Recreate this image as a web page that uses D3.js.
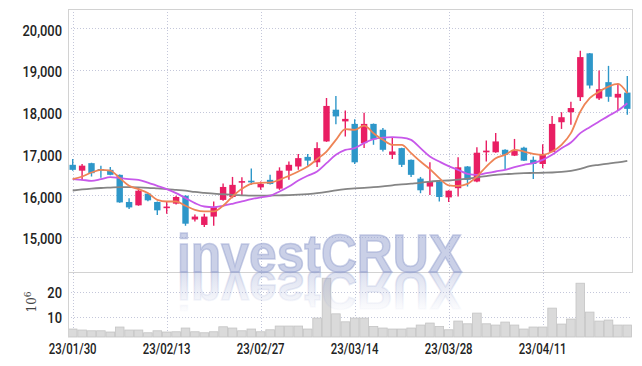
<!DOCTYPE html>
<html>
<head>
<meta charset="utf-8">
<script src="https://cdn.jsdelivr.net/npm/d3@7"></script>
<style>
body { margin: 0; background: #fff; }
</style>
</head>
<body>
<div id="chart"></div>
<script>
// Trading days (60 sessions)
const dates = [
    "23/01/30", "23/01/31", "23/02/01", "23/02/02", "23/02/03",
    "23/02/06", "23/02/07", "23/02/08", "23/02/09", "23/02/10",
    "23/02/13", "23/02/14", "23/02/15", "23/02/16", "23/02/17",
    "23/02/20", "23/02/21", "23/02/22", "23/02/23", "23/02/24",
    "23/02/27", "23/02/28", "23/03/02", "23/03/03",
    "23/03/06", "23/03/07", "23/03/08", "23/03/09", "23/03/10",
    "23/03/13", "23/03/14", "23/03/15", "23/03/16", "23/03/17",
    "23/03/20", "23/03/21", "23/03/22", "23/03/23", "23/03/24",
    "23/03/27", "23/03/28", "23/03/29", "23/03/30", "23/03/31",
    "23/04/03", "23/04/04", "23/04/05", "23/04/06", "23/04/07",
    "23/04/10", "23/04/11", "23/04/12", "23/04/13", "23/04/14",
    "23/04/17", "23/04/18", "23/04/19", "23/04/20", "23/04/21",
    "23/04/24"
];

const open = [16730, 16590, 16770, 16630, 16610, 16490, 15840, 15760, 16040, 15840,
    15700, 15800, 15990, 15420, 15290, 15490, 15890, 15960, 16310, 16350,
    16190, 16370, 16160, 16590, 16690, 16920, 16790, 17290, 18050, 17770,
    17710, 17250, 17710, 17570, 16970, 17130, 16850, 16400, 16210, 16330,
    15950, 16170, 16690, 16330, 17030, 17030, 17090, 16950, 17140, 16850,
    16750, 17040, 17750, 17990, 18350, 19400, 18320, 18710, 18340, 18460];
const high = [16870, 16750, 16780, 16710, 16680, 16500, 15930, 16170, 16050, 15850,
    15850, 15990, 16000, 15540, 15560, 15850, 16280, 16440, 16430, 16640,
    16330, 16490, 16670, 16810, 16990, 16990, 17270, 18330, 18380, 18030,
    17820, 17980, 17720, 17610, 17380, 17140, 16860, 16440, 16790, 16340,
    16120, 16910, 16700, 17150, 17310, 17490, 17100, 17350, 17160, 16930,
    17220, 17900, 17990, 18240, 19460, 19410, 18990, 19100, 18680, 18860];
const low = [16590, 16360, 16450, 16420, 16480, 15820, 15670, 15750, 15860, 15530,
    15560, 15780, 15270, 15370, 15240, 15270, 15870, 15930, 16010, 16250,
    16130, 16260, 16130, 16370, 16610, 16710, 16680, 17280, 17700, 17410,
    16750, 17130, 17210, 17050, 16870, 16680, 16440, 16050, 16010, 15850,
    15840, 15970, 16210, 16310, 16810, 17020, 16630, 16940, 16820, 16390,
    16650, 17030, 17590, 17690, 18260, 18560, 18280, 18240, 18020, 17930];
const close = [16610, 16710, 16530, 16600, 16490, 15830, 15710, 16110, 15880, 15640,
    15730, 15960, 15320, 15490, 15490, 15720, 16200, 16250, 16340, 16310,
    16270, 16270, 16590, 16730, 16890, 16830, 17130, 18140, 17890, 17830,
    16790, 17710, 17340, 17090, 17050, 16730, 16490, 16120, 16320, 15960,
    16110, 16670, 16370, 17020, 17070, 17290, 16970, 17060, 16830, 16750,
    16990, 17710, 17870, 18090, 19310, 18630, 18540, 18360, 18430, 18070];

// volume, millions of shares
const volume = [5.0, 4.6, 4.3, 4.3, 3.8, 5.8, 4.6, 4.6, 3.5, 4.3,
    3.8, 3.9, 5.4, 3.9, 3.5, 3.9, 5.9, 5.4, 4.3, 5.0,
    3.9, 4.7, 6.2, 6.2, 6.2, 5.0, 9.4, 25.4, 11.1, 7.9,
    9.4, 9.4, 6.0, 5.4, 5.0, 5.0, 5.4, 6.6, 7.4, 6.0,
    4.7, 8.2, 7.1, 11.4, 7.1, 6.6, 7.8, 6.6, 5.0, 5.8,
    5.8, 13.4, 7.0, 9.0, 23.4, 11.8, 8.2, 8.6, 6.6, 6.6];

// moving averages
const ma5 = [16388, 16450, 16546, 16610, 16593, 16411, 16227, 16148, 16053, 15892,
    15852, 15852, 15749, 15653, 15613, 15613, 15749, 15971, 16155, 16275,
    16300, 16306, 16371, 16467, 16570, 16689, 16866, 17048, 17328, 17584,
    17567, 17670, 17488, 17328, 17208, 17208, 17010, 16809, 16627, 16411,
    16240, 16227, 16275, 16450, 16689, 16890, 16969, 17088, 17048, 16993,
    16969, 17048, 17208, 17488, 18005, 18325, 18483, 18603, 18667, 18445];
const ma10 = [16388, 16371, 16347, 16388, 16435, 16411, 16388, 16371, 16306, 16227,
    16148, 16053, 15933, 15813, 15732, 15718, 15749, 15797, 15852, 15909,
    15952, 15988, 16091, 16211, 16354, 16467, 16570, 16770, 16969, 17088,
    17129, 17249, 17344, 17383, 17392, 17383, 17328, 17129, 16929, 16809,
    16698, 16610, 16514, 16490, 16530, 16570, 16610, 16675, 16730, 16770,
    16849, 16969, 17129, 17265, 17488, 17632, 17766, 17902, 18029, 18206];
const ma60 = [16115, 16140, 16160, 16175, 16185, 16195, 16195, 16190, 16180, 16165,
    16150, 16130, 16110, 16080, 16060, 16040, 16025, 16010, 16000, 15990,
    15990, 15995, 16000, 16005, 16015, 16030, 16050, 16080, 16120, 16150,
    16165, 16180, 16195, 16215, 16240, 16260, 16280, 16300, 16330, 16345,
    16355, 16375, 16400, 16430, 16460, 16490, 16505, 16520, 16530, 16535,
    16540, 16546, 16560, 16586, 16630, 16700, 16730, 16760, 16790, 16826];

const priceTicks = [15000, 16000, 17000, 18000, 19000, 20000];
const volTicks = [10, 20];
const dateTicks = ["23/01/30", "23/02/13", "23/02/27", "23/03/14", "23/03/28", "23/04/11"];

const width = 642, height = 366;
const plotLeft = 68, plotRight = 632, plotTop = 9, priceBottom = 272, volBottom = 337;
const upColor = "#e91e63", downColor = "#2e97c9";
const wmColor = "#96a2d0";

const svg = d3.select("#chart").append("svg")
    .attr("width", width)
    .attr("height", height);

const x = d3.scaleBand().domain(dates).range([plotLeft, plotRight]).padding(0);
const y = d3.scaleLinear().domain([14163, 20462]).range([priceBottom, plotTop]);
const yVol = d3.scaleLinear().domain([1.8, 27.9]).range([volBottom, priceBottom]);
const cx = d => x(d) + x.bandwidth() / 2;

// Grid
const grid = svg.append("g")
    .attr("stroke", "#c4c7da")
    .attr("stroke-width", 1)
    .attr("stroke-dasharray", "1,2");
grid.selectAll(".hg").data(priceTicks).enter().append("line")
    .attr("x1", plotLeft).attr("x2", plotRight)
    .attr("y1", d => Math.round(y(d)) + 0.5).attr("y2", d => Math.round(y(d)) + 0.5);
grid.selectAll(".vg").data(volTicks).enter().append("line")
    .attr("x1", plotLeft).attr("x2", plotRight)
    .attr("y1", d => Math.round(yVol(d)) + 0.5).attr("y2", d => Math.round(yVol(d)) + 0.5);
grid.selectAll(".xg").data(dateTicks).enter().append("line")
    .attr("x1", d => Math.round(cx(d)) + 0.5).attr("x2", d => Math.round(cx(d)) + 0.5)
    .attr("y1", plotTop).attr("y2", volBottom);

// Volume bars
svg.append("g").selectAll("rect")
    .data(dates)
    .enter()
    .append("rect")
    .attr("x", d => x(d) + 0.4)
    .attr("width", x.bandwidth() - 0.8)
    .attr("y", (d, i) => yVol(volume[i]))
    .attr("height", (d, i) => volBottom - yVol(volume[i]))
    .attr("fill", "#dadada")
    .attr("stroke", "#c4c4c4")
    .attr("stroke-width", 0.8);

// Panel borders
const border = svg.append("g").attr("stroke", "#d2d2d2").attr("fill", "none");
border.append("rect")
    .attr("x", plotLeft + 0.5).attr("y", plotTop + 0.5)
    .attr("width", plotRight - plotLeft).attr("height", priceBottom - plotTop);
border.append("line")
    .attr("x1", plotLeft + 0.5).attr("x2", plotLeft + 0.5)
    .attr("y1", priceBottom).attr("y2", volBottom);

// Candles
const candles = svg.append("g").selectAll("g")
    .data(dates)
    .enter()
    .append("g");
candles.append("line")
    .attr("x1", d => cx(d)).attr("x2", d => cx(d))
    .attr("y1", (d, i) => y(high[i]))
    .attr("y2", (d, i) => y(low[i]))
    .attr("stroke", (d, i) => close[i] >= open[i] ? upColor : downColor)
    .attr("stroke-width", 1.4);
candles.append("rect")
    .attr("x", d => cx(d) - 3.2)
    .attr("width", 6.4)
    .attr("y", (d, i) => y(Math.max(open[i], close[i])))
    .attr("height", (d, i) => Math.max(1.6, Math.abs(y(open[i]) - y(close[i]))))
    .attr("fill", (d, i) => close[i] >= open[i] ? upColor : downColor);

// Moving averages
function drawLine(values, color, w) {
    const line = d3.line()
        .x((d, i) => cx(dates[i]))
        .y(d => y(d))
        .curve(d3.curveMonotoneX);
    svg.append("path")
        .datum(values)
        .attr("fill", "none")
        .attr("stroke", color)
        .attr("stroke-width", w)
        .attr("d", line);
}
drawLine(ma60, "#858585", 1.8);
drawLine(ma10, "#c758ea", 1.8);
drawLine(ma5, "#ee8456", 1.8);

// Watermark and its reflection
const defs = svg.append("defs");
const grad = defs.append("linearGradient")
    .attr("id", "fade")
    .attr("x1", 0).attr("y1", 0).attr("x2", 0).attr("y2", 1);
grad.append("stop").attr("offset", "0.12").attr("stop-color", wmColor).attr("stop-opacity", 0);
grad.append("stop").attr("offset", "0.8").attr("stop-color", wmColor).attr("stop-opacity", 0.32);

defs.append("text")
    .attr("id", "wm")
    .attr("x", 177).attr("y", priceBottom)
    .attr("textLength", 285).attr("lengthAdjust", "spacingAndGlyphs")
    .attr("font-family", "Liberation Sans, Arial, sans-serif")
    .attr("font-weight", "bold")
    .attr("font-size", 54)
    .attr("stroke-width", 1.6)
    .text("investCRUX");

svg.append("use")
    .attr("href", "#wm")
    .attr("transform", `translate(0,${2 * priceBottom}) scale(1,-1)`)
    .attr("fill", "url(#fade)")
    .attr("stroke", "url(#fade)");
svg.append("text")
    .attr("x", 177).attr("y", priceBottom)
    .attr("textLength", 285).attr("lengthAdjust", "spacingAndGlyphs")
    .attr("font-family", "Liberation Sans, Arial, sans-serif")
    .attr("font-weight", "bold")
    .attr("font-size", 54)
    .attr("fill", wmColor)
    .attr("fill-opacity", 0.5)
    .attr("stroke", wmColor)
    .attr("stroke-opacity", 0.5)
    .attr("stroke-width", 1.6)
    .attr("paint-order", "stroke")
    .text("investCRUX");

// Axes
const yAxis = svg.append("g")
    .attr("transform", `translate(${plotLeft},0)`)
    .call(d3.axisLeft(y).tickValues(priceTicks).tickFormat(d3.format(",")).tickSize(0).tickPadding(6));
const volAxis = svg.append("g")
    .attr("transform", `translate(${plotLeft},0)`)
    .call(d3.axisLeft(yVol).tickValues(volTicks).tickSize(0).tickPadding(6));
const xAxis = svg.append("g")
    .attr("transform", `translate(0,${volBottom})`)
    .call(d3.axisBottom(x).tickValues(dateTicks).tickSize(0).tickPadding(6));

// narrow the labels to the condensed look of the original
[[yAxis, 0.86], [volAxis, 0.86], [xAxis, 0.76]].forEach(([a, squeeze]) => {
    a.select(".domain").remove();
    a.selectAll("text")
        .attr("font-family", "Roboto, sans-serif")
        .attr("font-weight", 500)
        .attr("font-size", 15)
        .attr("fill", "#222")
        .each(function () {
            const w = this.getComputedTextLength();
            d3.select(this)
                .attr("textLength", w * squeeze)
                .attr("lengthAdjust", "spacingAndGlyphs");
        });
});
yAxis.selectAll("text").attr("dy", "0.45em");
volAxis.selectAll("text").attr("dy", "0.38em");

// Volume unit label
const unit = svg.append("text")
    .attr("transform", "translate(36,302) rotate(-90)")
    .attr("text-anchor", "middle")
    .attr("font-family", "DejaVu Serif, serif")
    .attr("font-size", 12)
    .attr("fill", "#444");
unit.append("tspan").text("10");
unit.append("tspan").attr("dy", -5).attr("font-size", 9).text("6");
</script>
</body>
</html>
